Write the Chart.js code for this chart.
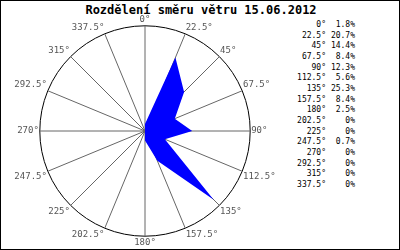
<!DOCTYPE html>
<html>
<head>
<meta charset="utf-8">
<script src="https://cdn.jsdelivr.net/npm/chart.js@4"></script>
<style>
  body { margin: 0; background: #fff; }
  #frame { position: relative; width: 400px; height: 250px; box-sizing: border-box; border: 1px solid #000; overflow: hidden; }
  #title { position: absolute; left: 0; top: 2px; width: 400px; text-align: center; font: bold 12px "DejaVu Sans Mono", monospace; }
  #wrap { position: absolute; left: 0; top: 14px; width: 289px; height: 234px; }
  #table { position: absolute; left: 295px; top: 19px; font: 8px "DejaVu Sans Mono", monospace; color: #000; border-collapse: collapse; }
  #table td { text-align: right; padding: 0; height: 10.67px; line-height: 10.67px; }
  #table td.d { width: 30px; }
  #table td.p { width: 29px; }
</style>
</head>
<body>
<div id="frame">
  <div id="title">Rozdělení směru větru 15.06.2012</div>
  <div id="wrap"><canvas id="chart"></canvas></div>
  <table id="table"></table>
</div>
<script>
const directions = [0, 22.5, 45, 67.5, 90, 112.5, 135, 157.5, 180, 202.5, 225, 247.5, 270, 292.5, 315, 337.5];
const shares = [1.8, 20.7, 14.4, 8.4, 12.3, 5.6, 25.3, 8.4, 2.5, 0, 0, 0.7, 0, 0, 0, 0];
const dirLabels = directions.map(d => d + "°");

// tabulka vpravo
const table = document.getElementById("table");
directions.forEach((d, i) => {
    const tr = document.createElement("tr");
    tr.innerHTML = "<td class='d'>" + dirLabels[i] + "</td><td class='p'>" + shares[i] + "%</td>";
    table.appendChild(tr);
});

const ctx = document.getElementById("chart");
new Chart(ctx, {
    type: "radar",
    data: {
        labels: dirLabels,
        datasets: [{
            data: shares,
            backgroundColor: "#0000ff",
            borderColor: "#0000ff",
            borderWidth: 0,
            fill: true,
            pointRadius: 0,
            tension: 0
        }]
    },
    options: {
        responsive: true,
        maintainAspectRatio: false,
        animation: false,
        layout: { padding: 0 },
        plugins: { legend: { display: false }, tooltip: { enabled: false } },
        scales: {
            r: {
                min: 0,
                max: 27.4,
                ticks: { display: false, stepSize: 27.4 },
                grid: { circular: true, color: "#000", lineWidth: 1 },
                angleLines: { color: "#666", lineWidth: 1 },
                pointLabels: {
                    color: "#555",
                    padding: 1,
                    font: { family: "DejaVu Sans Mono", size: 9 }
                }
            }
        }
    }
});
</script>
</body>
</html>
